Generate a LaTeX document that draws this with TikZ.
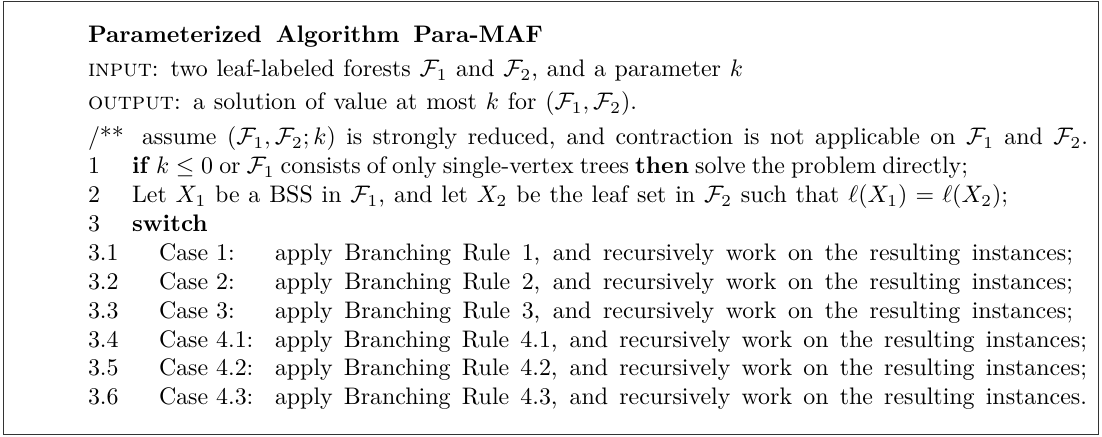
\documentclass[tikz,border=0pt]{standalone}
\usepackage{amsmath,amssymb}
% a line of text set to a fixed width (in pt), the spaces taking up the slack
\newcommand{\fitline}[2]{\hbox to #1pt{#2}}
\begin{document}
\begin{tikzpicture}[x=0.41841pt, y=-0.41841pt,
  txt/.style={anchor=base west, inner sep=0pt, outer sep=0pt},
  frame/.style={draw=black!80, line width=0.5pt}]
\useasboundingbox (0,0) rectangle (1102,437);
\draw[frame] (3.5,1.5) rectangle (1098.5,434.5);
% header
\node[txt] (title) at (88,43) {\fitline{190.3}{\textbf{Parameterized Algorithm Para-MAF}}};
\node[txt] (input) at (88,77) {\fitline{274.06}{\textsc{input}: two leaf-labeled forests $\mathcal{F}_1$ and $\mathcal{F}_2$, and a parameter $k$}};
\node[txt] (output) at (88,110) {\fitline{229.71}{\textsc{output}: a solution of value at most $k$ for $(\mathcal{F}_1,\mathcal{F}_2)$.}};
% body
\node[txt] (c0) at (88,145) {/**};
\node[txt] (t0) at (142,145) {\fitline{395.82}{assume $(\mathcal{F}_1,\mathcal{F}_2;k)$ is strongly reduced, and contraction is not applicable on $\mathcal{F}_1$ and $\mathcal{F}_2$.}};
\node[txt] (n1) at (88,174) {1};
\node[txt] (t1) at (132,174) {\fitline{349.79}{\textbf{if} $k\le 0$ or $\mathcal{F}_1$ consists of only single-vertex trees \textbf{then} solve the problem directly;}};
\node[txt] (n2) at (88,202.5) {2};
\node[txt] (t2) at (132,202.5) {\fitline{366.53}{Let $X_1$ be a BSS in $\mathcal{F}_1$, and let $X_2$ be the leaf set in $\mathcal{F}_2$ such that $\ell(X_1)=\ell(X_2)$;}};
\node[txt] (n3) at (88,232) {3};
\node[txt] (t3) at (132,232) {\textbf{switch}};
% the six cases of the switch
\foreach \i/\c/\e/\w [count=\j] in {1/1/;/333.9,2/2/;/333.9,3/3/;/333.9,4/4.1/;/339.75,5/4.2/;/339.75,6/4.3/./339.75}{
  \pgfmathsetmacro{\yy}{232+28.8*\j}
  \node[txt] (sn\i) at (88,\yy) {3.\i};
  \node[txt] (sc\i) at (159,\yy) {Case \c:};
  \node[txt] (sa\i) at (275,\yy) {\fitline{\w}{apply Branching Rule \c, and recursively work on the resulting instances\e}};
}
\end{tikzpicture}
\end{document}
